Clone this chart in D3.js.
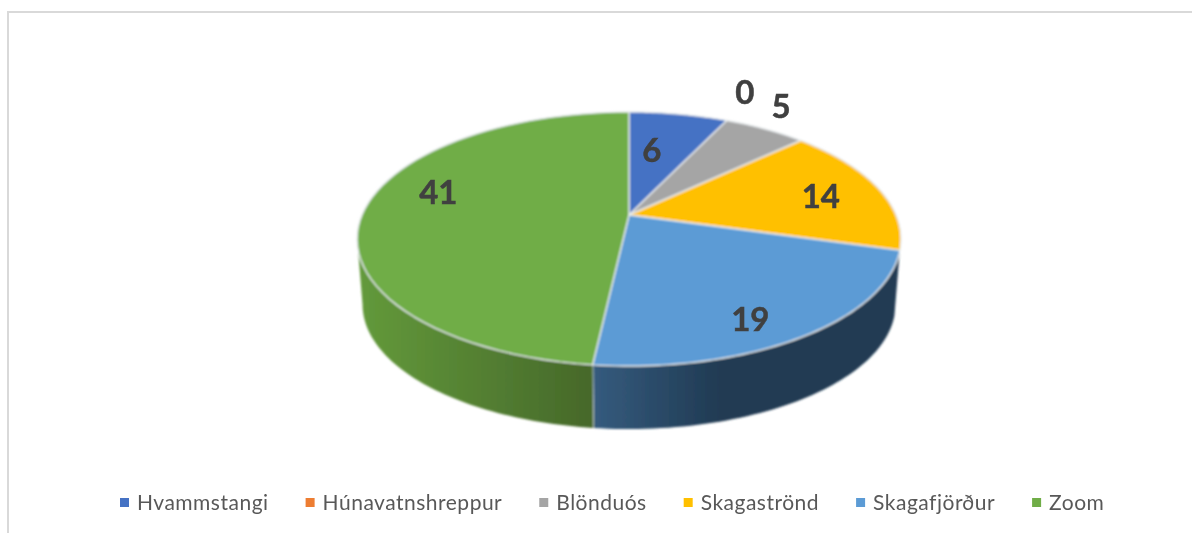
<!DOCTYPE html>
<html><head><meta charset="utf-8">
<script src="https://cdn.jsdelivr.net/npm/d3@7"></script>
<style>html,body{margin:0;padding:0;background:#fff}svg{display:block}</style>
</head><body><svg id="c" width="1192" height="533"></svg>
<script>
const categories = ["Hvammstangi","Húnavatnshreppur","Blönduós","Skagaströnd","Skagafjörður","Zoom"];
const values = [6,0,5,14,19,41];
const colors = ["#4472c4","#ed7d31","#a5a5a5","#ffc000","#5b9bd5","#70ad47"];
const sideStops = {4:["#355b7e","#203a52"],5:["#639a3b","#46682a"]};
const labelRadii = [0.61,1.36,1.28,0.76,0.825,0.77];
const labelShift = [-3.7,-2.2,-3.6,1,5.5,12.3];

const W=1192,H=533,cx=629,cy=215,a=267,b=122.5,k=0.189;
const svg=d3.select("#c");
const defs=svg.append("defs");
defs.append("filter").attr("id","soft").attr("x","-5%").attr("y","-5%").attr("width","110%").attr("height","110%")
  .append("feGaussianBlur").attr("stdDeviation",0.8);
defs.append("filter").attr("id","softText").attr("x","-5%").attr("y","-20%").attr("width","110%").attr("height","140%")
  .append("feGaussianBlur").attr("stdDeviation",0.4);

// frame
svg.append("path").attr("d",`M8,${H}V12H${W}`).attr("fill","none").attr("stroke","#d9d9d9").attr("stroke-width",2);

// perspective disc: angle clockwise from the top, r as a fraction of the radius
const proj=(t,r=1,sc=1,dy=0)=>{
  const u=r*Math.sin(t),v=-r*Math.cos(t),d=1-k*v;
  return [cx+sc*a*u/d, cy+dy+sc*b*v/d];
};
const arcs=d3.pie().sort(null).value(d=>d)(values);
const line=d3.line();
const arcPts=(t0,t1,sc,dy)=>d3.range(0,61).map(i=>proj(t0+(t1-t0)*i/60,1,sc,dy));
const g=svg.append("g").attr("filter","url(#soft)");

// side wall: only the front half of the rim shows
const tR=Math.PI-Math.acos(k), tL=Math.PI+Math.acos(k);
const sideScale=0.98, sideDrop=66;
arcs.forEach((s,i)=>{
  const t0=Math.max(s.startAngle,tR),t1=Math.min(s.endAngle,tL);
  if(t1<=t0||!sideStops[i])return;
  const top=arcPts(t0,t1,1,0),bot=arcPts(t1,t0,sideScale,sideDrop);
  const id="side"+i,xs=top.map(p=>p[0]);
  const lg=defs.append("linearGradient").attr("id",id).attr("gradientUnits","userSpaceOnUse").attr("y1",0).attr("y2",0);
  if(i===4){
    lg.attr("x1",d3.min(xs)).attr("x2",d3.min(xs)+130);
  }else{
    lg.attr("x1",d3.min(xs)).attr("x2",d3.max(xs));
  }
  lg.selectAll("stop").data(sideStops[i]).join("stop").attr("offset",(d,j)=>j).attr("stop-color",d=>d);
  g.append("path").attr("d",line(top.concat(bot))+"Z").attr("fill",`url(#${id})`).attr("stroke","none");
  // light seam at the slice boundary
  if(i===4){
    g.append("path").attr("d",line([proj(t1,1,1,0),proj(t1,1,sideScale,sideDrop)]))
      .attr("stroke","#dfe6e8").attr("stroke-width",1.4).attr("fill","none");
  }
});

// top face
arcs.forEach((s,i)=>{
  if(s.endAngle-s.startAngle<=0)return;
  const pts=[[cx,cy]].concat(arcPts(s.startAngle,s.endAngle,1,0));
  g.append("path").attr("d",line(pts)+"Z").attr("fill",colors[i])
    .attr("stroke","#e6eaec").attr("stroke-width",1.4).attr("stroke-linejoin","round");
});

// data labels
svg.append("g").attr("filter","url(#softText)").selectAll("text").data(arcs).join("text")
  .attr("transform",(s,i)=>{
    const t=(s.startAngle+s.endAngle)/2+labelShift[i]*Math.PI/180;
    return `translate(${proj(t,labelRadii[i])})`;
  })
  .attr("text-anchor","middle").attr("dominant-baseline","central")
  .attr("font-family","Lato").attr("font-weight",700).attr("font-size",33).attr("fill","#404040")
  .attr("stroke","#404040").attr("stroke-width",0.5)
  .text(s=>s.value);

// legend: laid out from measured text widths
const leg=svg.append("g").attr("filter","url(#softText)");
const fs=21, markerW=9, markerGap=8, itemGap=37;
let x=120;
categories.forEach((c,i)=>{
  leg.append("rect").attr("x",x).attr("y",498).attr("width",markerW).attr("height",markerW).attr("fill",colors[i]);
  const t=leg.append("text").attr("x",x+markerW+markerGap).attr("y",510)
    .attr("font-family","Lato").attr("font-size",fs).attr("letter-spacing",0.5).attr("fill","#595959").text(c);
  x+=markerW+markerGap+t.node().getComputedTextLength()+itemGap;
});
</script></body></html>
